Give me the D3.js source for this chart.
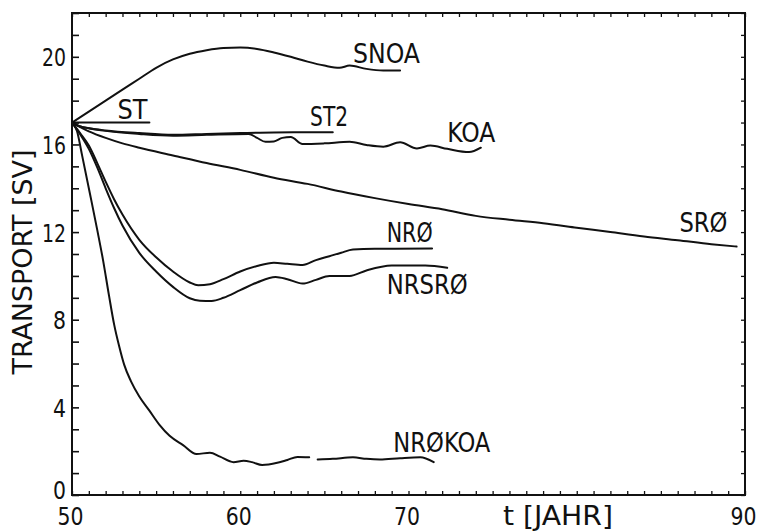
<!DOCTYPE html>
<html>
<head>
<meta charset="utf-8">
<script src="https://cdn.jsdelivr.net/npm/d3@7"></script>
<style>
  html, body { margin: 0; padding: 0; background: #ffffff; }
  svg { display: block; }
  text { font-family: "Liberation Sans Narrow", "DejaVu Sans Condensed", "Liberation Sans", sans-serif; fill: #111; }
</style>
</head>
<body>
<svg id="chart" width="761" height="532"></svg>
<script>
// Model runs: overturning transport [Sv] against model time [years]
const SNOA = [[50,17.0],[51,17.5],[52,18.0],[53,18.5],[54,19.0],[55,19.5],[56,19.88],[57,20.14],[58,20.3],[59,20.4],[60,20.42],[61,20.36],[62,20.2],[63,20.0],[64,19.78],[65,19.6],[65.9,19.5],[66.5,19.6],[67.5,19.45],[68.5,19.38],[69.5,19.38]];
const ST   = [[50,17.0],[54.6,17.0]];
const ST2  = [[50,17.0],[50.5,16.82],[51,16.74],[52,16.64],[54,16.52],[56,16.44],[58,16.48],[60,16.52],[62,16.55],[65.5,16.56]];
const KOA  = [[50,17.0],[50.5,16.82],[51,16.74],[52,16.62],[54,16.48],[56,16.4],[58,16.44],[60.5,16.48],[61,16.3],[61.5,16.12],[62,16.14],[62.5,16.3],[63,16.34],[63.7,16.02],[65,16.05],[66.5,16.12],[67.5,15.98],[68.5,15.9],[69.5,16.1],[70.5,15.82],[71.3,15.95],[72.3,15.8],[73.6,15.65],[74.3,15.85]];
const SR0  = [[50,17.0],[51,16.6],[52,16.3],[53,16.05],[54,15.85],[56,15.5],[58,15.15],[60,14.84],[62,14.48],[64,14.2],[66,13.85],[68,13.55],[70,13.28],[72,13.04],[74,12.74],[76,12.56],[78,12.4],[80,12.2],[82,12.0],[84,11.8],[86,11.63],[88,11.45],[89.5,11.34]];
const NR0  = [[50,17.0],[50.5,16.5],[51,15.95],[51.5,15.15],[52,14.3],[52.5,13.5],[53,12.8],[54,11.65],[55,10.85],[56,10.2],[57,9.7],[57.5,9.57],[58.2,9.62],[59,9.85],[60,10.2],[61,10.45],[62,10.6],[62.8,10.55],[63.7,10.5],[64.5,10.72],[65.3,10.9],[66,11.06],[66.7,11.2],[68,11.24],[71.4,11.25]];
const NRSR0 = [[50,17.0],[50.5,16.45],[51,15.8],[51.5,14.95],[52,14.0],[52.5,13.1],[53,12.3],[54,11.05],[55,10.2],[56,9.5],[57,8.98],[57.6,8.87],[58.3,8.86],[59,9.0],[60,9.35],[61,9.7],[62.1,9.95],[62.8,9.85],[63.7,9.65],[64.5,9.82],[65.3,10.0],[66.5,10.0],[67.5,10.25],[69,10.47],[71,10.48],[72.3,10.37]];
const NR0KOA = [[50,17.0],[50.3,16.6],[50.6,15.5],[51.07,13.74],[51.5,12.1],[51.85,10.7],[52.2,9.1],[52.5,7.8],[52.8,6.8],[53.1,5.95],[53.5,5.2],[54,4.5],[54.6,3.85],[55.2,3.2],[55.8,2.7],[56.6,2.28],[57.4,1.87],[58.2,1.93],[58.8,1.75],[59.6,1.5],[60.2,1.56],[60.7,1.5],[61.3,1.37],[62.2,1.47],[62.8,1.6],[63.4,1.74],[64.1,1.72],[64.3,null],[64.6,1.62],[65.5,1.65],[66.7,1.72],[67.5,1.65],[68.3,1.62],[69.5,1.68],[70.7,1.72],[71.5,1.5]];

const seriesList = [SNOA, ST, ST2, KOA, SR0, NR0, NRSR0, NR0KOA];

// Curve names, anchored at [year, transport] of the text baseline start
const seriesLabels = [
  { text: "SNOA",   at: [66.7, 19.73] },
  { text: "ST",     at: [52.7, 17.18] },
  { text: "ST2",    at: [64.15, 16.86] },
  { text: "KOA",    at: [72.3, 16.1] },
  { text: "NRØ",    at: [68.7, 11.54] },
  { text: "NRSRØ",  at: [68.7, 9.16] },
  { text: "SRØ",    at: [86.1, 12.0] },
  { text: "NRØKOA", at: [69.1, 1.97] }
];

const xDomain = [50, 90];
const yDomain = [0, 22];
const xLabelTicks = [50, 60, 70, 90];
const yLabelTicks = [0, 4, 8, 12, 16, 20];
const xTitle = "t [JAHR]";
const yTitle = "TRANSPORT [SV]";

// Layout
const W = 761, H = 532;
const M = { left: 72, top: 13, right: 16, bottom: 37 };
const labelWidth = { "SNOA": 67, "ST": 30, "ST2": 38, "KOA": 48, "NRØ": 46, "NRSRØ": 81, "SRØ": 48, "NRØKOA": 97 };

const svg = d3.select("#chart");
const x = d3.scaleLinear().domain(xDomain).range([M.left, W - M.right]);
const y = d3.scaleLinear().domain(yDomain).range([H - M.bottom, M.top]);

const yearTicks = d3.range(xDomain[0], xDomain[1] + 1, 1);
const unitTicks = d3.range(yDomain[0], yDomain[1] + 1, 1);

// Bottom axis: small inward ticks every year, numbers at the decades
const gx = svg.append("g").attr("transform", `translate(0,${H - M.bottom})`)
  .call(d3.axisBottom(x).tickValues(yearTicks).tickSizeInner(-4).tickSizeOuter(0)
    .tickFormat(d => xLabelTicks.includes(d) ? String(d) : ""));
gx.select(".domain").remove();
gx.selectAll(".tick line").attr("stroke", "#111").attr("stroke-width", 1.3);
gx.selectAll(".tick text").attr("y", 30).attr("dy", null).attr("dx", -2)
  .attr("font-size", 25).attr("fill", "#111")
  .each(function (d) { if (xLabelTicks.includes(d)) d3.select(this).attr("textLength", 26).attr("lengthAdjust", "spacingAndGlyphs"); });

// Top axis: tiny ticks only
const gt = svg.append("g").attr("transform", `translate(0,${M.top})`)
  .call(d3.axisTop(x).tickValues(yearTicks).tickSizeInner(-4).tickSizeOuter(0).tickFormat(""));
gt.select(".domain").remove();
gt.selectAll(".tick line").attr("stroke", "#111").attr("stroke-width", 1.3);

// Left axis: unit ticks, numbers every 4 Sv (the zero sits a little higher, clear of the year labels)
const gy = svg.append("g").attr("transform", `translate(${M.left},0)`)
  .call(d3.axisLeft(y).tickValues(unitTicks).tickSizeInner(-7).tickSizeOuter(0)
    .tickFormat(d => yLabelTicks.includes(d) ? String(d) : ""));
gy.select(".domain").remove();
gy.selectAll(".tick line").attr("stroke", "#111").attr("stroke-width", 1.6);
gy.selectAll(".tick text").attr("x", -6).attr("dy", "0.36em")
  .attr("font-size", 25).attr("fill", "#111")
  .attr("y", d => d === 0 ? -6 : 0)
  .each(function (d) {
    if (yLabelTicks.includes(d)) d3.select(this).attr("textLength", d >= 10 ? 24 : 13).attr("lengthAdjust", "spacingAndGlyphs");
  });

// Right axis: unit ticks only
const gr = svg.append("g").attr("transform", `translate(${W - M.right},0)`)
  .call(d3.axisRight(y).tickValues(unitTicks).tickSizeInner(-4).tickSizeOuter(0).tickFormat(""));
gr.select(".domain").remove();
gr.selectAll(".tick line").attr("stroke", "#111").attr("stroke-width", 1.3);

// Frame
svg.append("rect")
  .attr("x", M.left).attr("y", M.top)
  .attr("width", W - M.left - M.right).attr("height", H - M.top - M.bottom)
  .attr("fill", "none").attr("stroke", "#111").attr("stroke-width", 2);

// Curves
const line = d3.line()
  .defined(d => d[1] !== null)
  .x(d => x(d[0])).y(d => y(d[1]))
  .curve(d3.curveMonotoneX);

svg.append("g").selectAll("path").data(seriesList).join("path")
  .attr("d", line)
  .attr("fill", "none").attr("stroke", "#111")
  .attr("stroke-width", 2).attr("stroke-linejoin", "round").attr("stroke-linecap", "round");

// Curve names
svg.append("g").selectAll("text").data(seriesLabels).join("text")
  .attr("x", d => x(d.at[0])).attr("y", d => y(d.at[1]))
  .attr("font-size", 26)
  .attr("textLength", d => labelWidth[d.text]).attr("lengthAdjust", "spacingAndGlyphs")
  .text(d => d.text);

// Axis titles
svg.append("text")
  .attr("x", 503).attr("y", 525)
  .attr("font-size", 26)
  .attr("textLength", 110).attr("lengthAdjust", "spacingAndGlyphs")
  .text(xTitle);

svg.append("text")
  .attr("transform", "translate(32,262) rotate(-90)")
  .attr("text-anchor", "middle")
  .attr("font-size", 26)
  .attr("textLength", 225).attr("lengthAdjust", "spacingAndGlyphs")
  .text(yTitle);
</script>
</body>
</html>
